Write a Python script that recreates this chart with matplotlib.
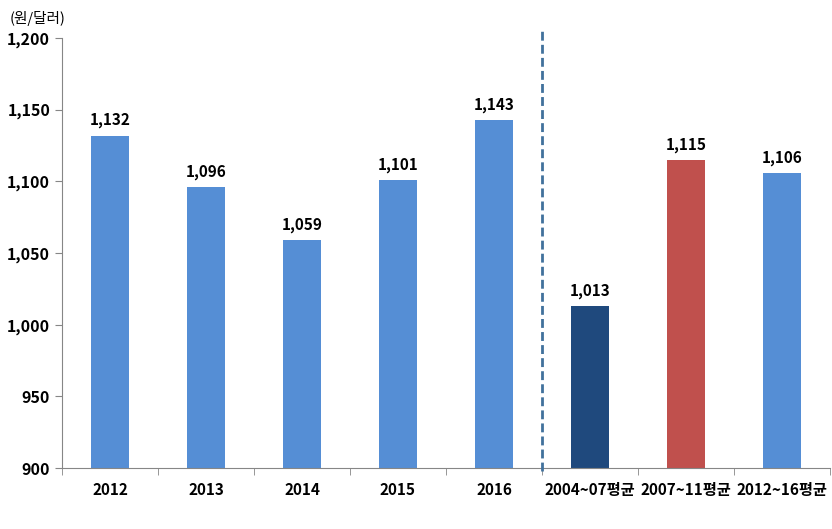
import matplotlib
matplotlib.use("Agg")
import matplotlib.pyplot as plt
from matplotlib.ticker import FuncFormatter

plt.rcParams['font.family'] = ['Noto Sans CJK KR', 'DejaVu Sans']

categories = ["2012", "2013", "2014", "2015", "2016", "2004~07평균", "2007~11평균", "2012~16평균"]
values = [1132, 1096, 1059, 1101, 1143, 1013, 1115, 1106]
colors = ["#558ED5"] * 5 + ["#1F497D", "#C0504D", "#558ED5"]

fig = plt.figure(figsize=(8.32, 5.29), dpi=100)
ax = fig.add_axes([0.0745, 0.115, 0.923, 0.813])

x = range(len(categories))
ax.bar(x, values, width=0.4, color=colors, zorder=2)

for xi, v in zip(x, values):
    ax.text(xi, v + 5, f"{v:,}", ha="center", va="bottom", fontsize=11, fontweight="bold")

ax.set_xlim(-0.5, len(categories) - 0.5)
ax.set_ylim(900, 1200)
ax.set_yticks(range(900, 1201, 50))
ax.yaxis.set_major_formatter(FuncFormatter(lambda v, p: f"{int(v):,}"))
ax.set_xticks(list(x))
ax.set_xticklabels(categories, fontsize=11, fontweight="bold")
ax.set_xticks([i + 0.5 for i in range(-1, len(categories))], minor=True)
ax.tick_params(axis="x", which="major", length=0, pad=10)
ax.tick_params(axis="x", which="minor", length=5, direction="out", color="#868686")
ax.tick_params(axis="y", length=5, direction="out", color="#868686", labelsize=11.5)
for lab in ax.get_yticklabels():
    lab.set_fontweight("bold")

for s in ["top", "right"]:
    ax.spines[s].set_visible(False)
for s in ["left", "bottom"]:
    ax.spines[s].set_color("#868686")

ax.plot([4.5, 4.5], [898, 1207], linestyle=(0, (3.2, 1.5)), color="#41719C", linewidth=2,
        clip_on=False, zorder=3)

fig.text(0.012, 0.965, "(원/달러)", fontsize=10.5, va="center", ha="left")

fig.savefig("out.png", dpi=100)
